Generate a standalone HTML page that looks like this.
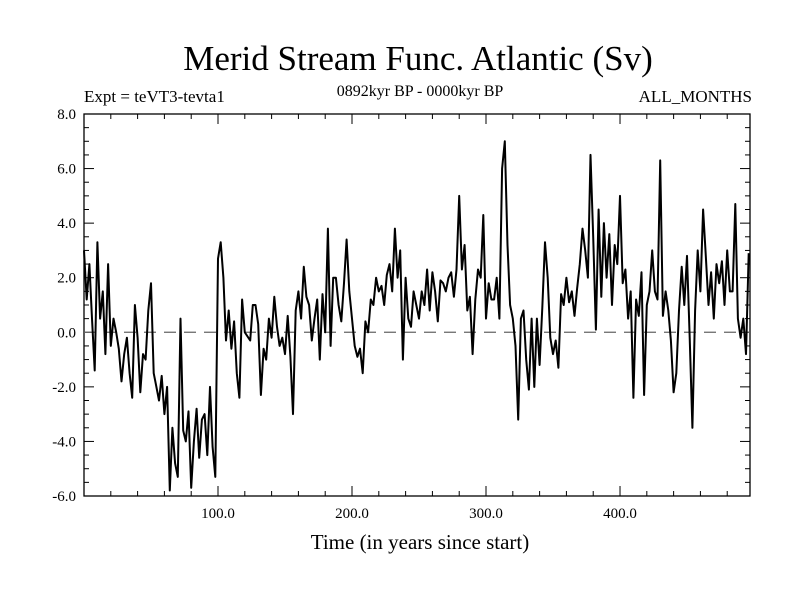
<!DOCTYPE html>
<html><head><meta charset="utf-8"><style>
body{margin:0;background:#fff;}
svg text{font-family:"Liberation Serif",serif;fill:#000;}
</style></head><body>
<svg id="chart" width="800" height="600" xmlns="http://www.w3.org/2000/svg">
<rect width="800" height="600" fill="#fff"/>
<text x="418" y="70" font-size="35" text-anchor="middle">Merid Stream Func. Atlantic (Sv)</text>
<text x="84" y="102" font-size="17">Expt = teVT3-tevta1</text>
<text x="420" y="96" font-size="16" text-anchor="middle">0892kyr BP - 0000kyr BP</text>
<text x="752" y="102" font-size="17" text-anchor="end">ALL_MONTHS</text>
<text x="420" y="549" font-size="21" text-anchor="middle">Time (in years since start)</text>
<g id="axes"></g>
<g id="plot"></g>
</svg>
<script>
const xTickValues=[100,200,300,400];
const xTickLabels=["100.0","200.0","300.0","400.0"];
const yTickValues=[-6,-4,-2,0,2,4,6,8];
const yTickLabels=["-6.0","-4.0","-2.0","0.0","2.0","4.0","6.0","8.0"];
const years=[0,2,4,6,8,10,12,14,16,18,20,22,24,26,28,30,32,34,36,38,40,42,44,46,48,50,52,54,56,58,60,62,64,66,68,70,72,74,76,78,80,82,84,86,88,90,92,94,96,98,100,102,104,106,108,110,112,114,116,118,120,124,126,128,130,132,134,136,138,140,142,144,146,148,150,152,154,156,158,160,162,164,166,168,170,172,174,176,178,180,182,184,186,188,190,192,194,196,198,200,202,204,206,208,210,212,214,216,218,220,222,224,226,228,230,232,234,236,238,240,242,244,246,248,250,252,254,256,258,260,262,264,266,268,270,272,274,276,278,280,282,284,286,288,290,292,294,296,298,300,302,304,306,308,310,312,314,316,318,320,322,324,326,328,330,332,334,336,338,340,342,344,346,348,350,352,354,356,358,360,362,364,366,368,370,372,374,376,378,380,382,384,386,388,390,392,394,396,398,400,402,404,406,408,410,412,414,416,418,420,422,424,426,428,430,432,434,436,438,440,442,444,446,448,450,452,454,456,458,460,462,464,466,468,470,472,474,476,478,480,482,484,486,488,490,492,494,496];
const streamValues=[3.0,1.2,2.5,0.5,-1.4,3.3,0.5,1.5,-0.8,2.5,-0.5,0.5,0.0,-0.6,-1.8,-0.8,-0.2,-1.5,-2.4,1.0,-0.2,-2.2,-0.8,-1.0,0.8,1.8,-1.5,-2.0,-2.5,-1.6,-3.0,-2.0,-5.8,-3.5,-4.8,-5.3,0.5,-3.6,-4.0,-2.9,-5.7,-4.0,-2.8,-4.6,-3.2,-3.0,-4.5,-2.0,-4.2,-5.3,2.7,3.3,2.0,-0.3,0.8,-0.6,0.4,-1.5,-2.4,1.2,0.0,-0.3,1.0,1.0,0.3,-2.3,-0.6,-1.0,0.5,-0.2,1.3,0.2,-0.5,-0.2,-0.8,0.6,-0.9,-3.0,0.8,1.5,0.5,2.4,1.3,1.0,-0.3,0.5,1.2,-1.0,1.4,0.0,3.8,-0.5,2.0,2.0,1.0,0.4,1.8,3.4,1.5,0.5,-0.5,-0.9,-0.6,-1.5,0.4,0.0,1.2,1.0,2.0,1.5,1.7,1.0,2.1,2.5,1.5,3.8,2.0,3.0,-1.0,2.0,0.5,0.2,1.5,1.0,0.5,1.5,1.0,2.3,0.8,2.2,1.5,0.4,1.9,1.8,1.5,2.0,2.2,1.3,2.3,5.0,2.3,3.2,0.8,1.3,-0.8,1.2,2.3,2.0,4.3,0.5,1.8,1.2,1.2,2.0,0.5,6.0,7.0,3.2,1.0,0.5,-0.5,-3.2,0.5,0.8,-1.0,-2.1,0.5,-2.0,0.5,-1.2,0.9,3.3,2.0,-0.2,-0.8,-0.3,-1.3,1.4,1.0,2.0,1.1,1.5,0.6,1.6,2.5,3.8,3.0,2.0,6.5,3.5,0.1,4.5,1.3,4.0,2.0,3.6,1.0,3.2,2.5,5.0,1.8,2.3,0.5,1.5,-2.4,1.2,0.6,2.2,-2.3,1.0,1.5,3.0,1.5,1.2,6.3,0.6,1.5,0.8,-0.3,-2.2,-1.5,0.8,2.4,1.0,2.8,-0.2,-3.5,0.8,3.0,1.5,4.5,2.8,1.0,2.2,0.5,2.5,1.8,2.6,1.0,3.0,1.5,1.5,4.7,0.5,-0.2,0.5,-0.8,2.9,1.5];
const L=84,R=750,T=114,B=496,XMIN=0,XMAX=497,YMIN=-6,YMAX=8;
const xs=v=>L+(v-XMIN)/(XMAX-XMIN)*(R-L);
const ys=v=>B-(v-YMIN)/(YMAX-YMIN)*(B-T);
const NS="http://www.w3.org/2000/svg";
const axes=document.getElementById('axes'),plot=document.getElementById('plot');
function mk(tag,attrs,parent){const e=document.createElementNS(NS,tag);for(const k in attrs)e.setAttribute(k,attrs[k]);parent.appendChild(e);return e;}
const frame=mk('rect',{x:L,y:T,width:R-L,height:B-T,fill:'none',stroke:'#000','stroke-width':1.3},axes);


for(let v=20;v<XMAX;v+=20){const big=v%100===0;const len=big?10:5;
 const t1=mk('line',{x1:xs(v),x2:xs(v),y1:B,y2:B-len,stroke:'#000'},axes);
 
 
 const t2=mk('line',{x1:xs(v),x2:xs(v),y1:T,y2:T+len,stroke:'#000'},axes);
 
 }
for(let v=YMIN+0.5;v<YMAX;v+=0.5){const big=Math.abs(v%2)<1e-9;const len=big?10:5;
 const t1=mk('line',{x1:L,x2:L+len,y1:ys(v),y2:ys(v),stroke:'#000'},axes);
 
 
 const t2=mk('line',{x1:R,x2:R-len,y1:ys(v),y2:ys(v),stroke:'#000'},axes);
 
 }
xTickValues.forEach((v,i)=>{const t=mk('text',{x:xs(v),y:B+22,'font-size':15,'text-anchor':'middle'},axes);t.textContent=xTickLabels[i];
 
 });
yTickValues.forEach((v,i)=>{const t=mk('text',{x:L-8,y:ys(v)+5,'font-size':15,'text-anchor':'end'},axes);t.textContent=yTickLabels[i];
 
 });
const zl=mk('line',{x1:L,x2:R,y1:ys(0),y2:ys(0),stroke:'#666','stroke-width':1.3,'stroke-dasharray':'12,8'},plot);


const d=years.map((y,i)=>(i?'L':'M')+xs(y).toFixed(1)+','+ys(streamValues[i]).toFixed(1)).join('');
const p=mk('path',{d:d,fill:'none',stroke:'#000','stroke-width':2,'stroke-linejoin':'round'},plot);


</script>
</body></html>
